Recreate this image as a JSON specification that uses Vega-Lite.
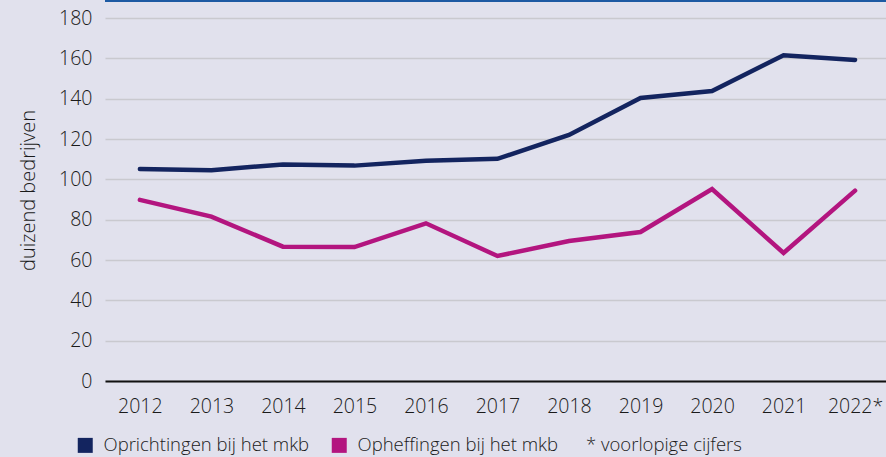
{
  "$schema": "https://vega.github.io/schema/vega-lite/v6.json",
  "width": 781,
  "height": 363,
  "autosize": {"type": "none"},
  "padding": {"left": 105, "top": 18, "right": 0, "bottom": 76},
  "background": "#e1e1ed",
  "config": {
    "view": {"stroke": null},
    "font": "Open Sans",
    "axis": {"labelFont": "Open Sans", "titleFont": "Open Sans", "labelColor": "#1a1a1a", "titleColor": "#1a1a1a", "labelFontWeight": 300, "titleFontWeight": 300},
    "legend": {"labelFont": "Open Sans", "titleFont": "Open Sans", "labelFontWeight": 300}
  },
  "data": {
    "values": [
      {"jaar": "2012", "reeks": "Oprichtingen bij het mkb", "waarde": 105.1},
      {"jaar": "2013", "reeks": "Oprichtingen bij het mkb", "waarde": 104.5},
      {"jaar": "2014", "reeks": "Oprichtingen bij het mkb", "waarde": 107.4},
      {"jaar": "2015", "reeks": "Oprichtingen bij het mkb", "waarde": 106.8},
      {"jaar": "2016", "reeks": "Oprichtingen bij het mkb", "waarde": 109.2},
      {"jaar": "2017", "reeks": "Oprichtingen bij het mkb", "waarde": 110.2},
      {"jaar": "2018", "reeks": "Oprichtingen bij het mkb", "waarde": 122.0},
      {"jaar": "2019", "reeks": "Oprichtingen bij het mkb", "waarde": 140.3},
      {"jaar": "2020", "reeks": "Oprichtingen bij het mkb", "waarde": 143.8},
      {"jaar": "2021", "reeks": "Oprichtingen bij het mkb", "waarde": 161.5},
      {"jaar": "2022*", "reeks": "Oprichtingen bij het mkb", "waarde": 159.2},
      {"jaar": "2012", "reeks": "Opheffingen bij het mkb", "waarde": 89.8},
      {"jaar": "2013", "reeks": "Opheffingen bij het mkb", "waarde": 81.5},
      {"jaar": "2014", "reeks": "Opheffingen bij het mkb", "waarde": 66.6},
      {"jaar": "2015", "reeks": "Opheffingen bij het mkb", "waarde": 66.4},
      {"jaar": "2016", "reeks": "Opheffingen bij het mkb", "waarde": 78.2},
      {"jaar": "2017", "reeks": "Opheffingen bij het mkb", "waarde": 62.0},
      {"jaar": "2018", "reeks": "Opheffingen bij het mkb", "waarde": 69.4},
      {"jaar": "2019", "reeks": "Opheffingen bij het mkb", "waarde": 73.9},
      {"jaar": "2020", "reeks": "Opheffingen bij het mkb", "waarde": 95.2},
      {"jaar": "2021", "reeks": "Opheffingen bij het mkb", "waarde": 63.5},
      {"jaar": "2022*", "reeks": "Opheffingen bij het mkb", "waarde": 94.4}
    ]
  },
  "layer": [
    {
      "mark": {"type": "line", "strokeWidth": 4.5, "strokeCap": "round", "strokeJoin": "miter"},
      "encoding": {
        "x": {
          "field": "jaar", "type": "ordinal",
          "scale": {"type": "point", "padding": 0.46, "align": 0.53},
          "axis": {
            "title": null, "labelAngle": 0, "labelFontSize": 19.5, "labelPadding": 16,
            "ticks": false, "grid": false, "domainColor": "#111111", "domainWidth": 2
          }
        },
        "y": {
          "field": "waarde", "type": "quantitative",
          "scale": {"domain": [0, 180], "nice": false, "zero": true},
          "axis": {
            "title": "duizend bedrijven", "titleFontSize": 20,
            "titlePadding": 20, "titleY": 172, "labelFontSize": 19.5, "labelPadding": 13,
            "values": [0, 20, 40, 60, 80, 100, 120, 140, 160, 180],
            "ticks": false, "domain": false, "gridColor": "#c9c9cf", "gridWidth": 1.5
          }
        },
        "color": {
          "field": "reeks", "type": "nominal",
          "scale": {"domain": ["Oprichtingen bij het mkb", "Opheffingen bij het mkb"], "range": ["#13245f", "#b3157f"]},
          "legend": {
            "title": "* voorlopige cijfers", "titleOrient": "right", "titleFontSize": 18.5, "titleFontWeight": 300,
            "titleColor": "#1a1a1a", "titlePadding": 28, "titleBaseline": "middle",
            "orient": "none", "legendX": -29, "legendY": 418, "direction": "horizontal",
            "symbolType": "square", "symbolSize": 225, "symbolStrokeWidth": 0,
            "labelFontSize": 18.5, "labelColor": "#1a1a1a", "labelOffset": 9, "columnPadding": 20,
            "labelLimit": 400,
            "encode": {"symbols": {"update": {"fill": {"scale": "color", "field": "value"}, "fillOpacity": {"value": 1}, "strokeWidth": {"value": 0}}}}
          }
        }
      }
    },
    {
      "mark": {"type": "rule", "color": "#1d5aa3", "strokeWidth": 2, "clip": false},
      "encoding": {"y": {"datum": 188.4}}
    }
  ]
}
